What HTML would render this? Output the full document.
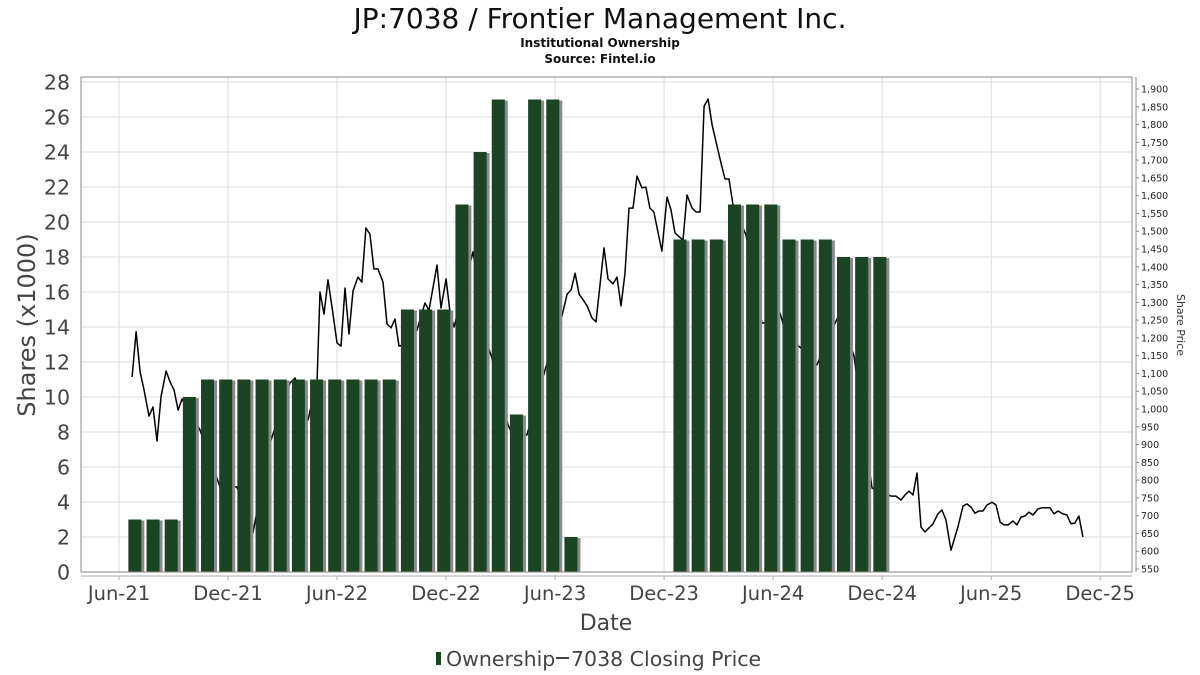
<!DOCTYPE html>
<html><head><meta charset="utf-8"><style>
html,body{margin:0;padding:0;background:#fff;}
svg{display:block;font-family:"DejaVu Sans","Liberation Sans",sans-serif;}
</style></head><body>
<svg id="chart" width="1200" height="675" viewBox="0 0 1200 675">
<text x="600" y="28" text-anchor="middle" font-size="28" fill="#111">JP:7038 / Frontier Management Inc.</text>
<text x="600" y="47" text-anchor="middle" font-size="12" font-weight="bold" fill="#111">Institutional Ownership</text>
<text x="600" y="63" text-anchor="middle" font-size="12" font-weight="bold" fill="#111">Source: Fintel.io</text>
<g id="grid"></g>
<g id="bars"></g>
<g id="line"></g>
<rect x="81" y="77" width="1051" height="495" fill="none" stroke="#888" stroke-width="1"/>
<g id="axes"></g>
<text transform="translate(35,325) rotate(-90)" text-anchor="middle" font-size="24" fill="#444">Shares (x1000)</text>
<text transform="translate(1177,325) rotate(90)" text-anchor="middle" font-size="11" fill="#333">Share Price</text>
<text x="606" y="630" text-anchor="middle" font-size="22" fill="#444">Date</text>
<g>
<rect x="436" y="652" width="5" height="13" fill="#1b4424"/>
<text x="446" y="666" font-size="20.5" fill="#444">Ownership</text>
<line x1="556" y1="658" x2="569" y2="658" stroke="#444" stroke-width="2"/>
<text x="571" y="666" font-size="20.5" fill="#444">7038 Closing Price</text>
</g>
</svg>
<script>
const barMonths=[0.9,1.9,2.9,3.9,4.9,5.9,6.9,7.9,8.9,9.9,10.9,11.9,12.9,13.9,14.9,15.9,16.9,17.9,18.9,19.9,20.9,21.9,22.9,23.9,24.9,30.9,31.9,32.9,33.9,34.9,35.9,36.9,37.9,38.9,39.9,40.9,41.9];
const barValues=[3,3,3,10,11,11,11,11,11,11,11,11,11,11,11,15,15,15,21,24,27,9,27,27,2,19,19,19,21,21,21,19,19,19,18,18,18];
const priceMonths=[0.72,0.94,1.16,1.38,1.65,1.87,2.09,2.31,2.59,2.81,3.03,3.25,3.47,4.46,5.56,6.49,7.37,8.31,9.41,9.69,10.4,10.9,11.06,11.28,11.5,11.72,12.0,12.22,12.44,12.66,12.88,13.15,13.37,13.59,13.81,14.03,14.25,14.53,14.75,14.97,15.19,15.41,15.63,16.4,16.84,17.06,17.5,17.72,18.0,18.22,18.44,19.48,20.25,20.53,21.41,21.68,22.45,23.45,24.38,24.66,24.88,25.1,25.32,25.54,25.76,26.03,26.25,26.69,26.91,27.19,27.41,27.63,27.85,28.07,28.29,28.51,28.78,29.0,29.22,29.44,29.66,29.88,30.16,30.38,30.6,31.04,31.26,31.54,31.76,31.98,32.2,32.42,32.64,32.91,33.13,33.35,33.57,33.79,34.51,35.39,35.66,36.38,36.76,37.48,38.41,39.41,39.68,40.45,41.44,42.49,42.76,43.04,43.26,43.48,43.7,43.92,44.14,44.36,44.8,45.07,45.29,45.51,45.79,46.17,46.45,46.67,46.89,47.11,47.33,47.55,47.77,48.05,48.27,48.49,48.71,48.93,49.2,49.42,49.64,49.86,50.08,50.3,50.58,50.8,51.24,51.46,51.68,51.95,52.17,52.39,52.61,52.83,53.05];
const priceValues=[1090,1217,1104,1053,980,1006,910,1034,1107,1076,1053,997,1028,941,781,781,651,904,1073,1087,969,1082,1329,1267,1363,1287,1186,1177,1340,1211,1332,1371,1357,1509,1492,1394,1394,1357,1239,1228,1253,1177,1180,1222,1298,1278,1405,1284,1366,1270,1231,1442,1186,1143,955,927,927,1110,1262,1323,1335,1382,1323,1307,1290,1256,1245,1453,1366,1352,1371,1290,1382,1565,1565,1655,1622,1624,1565,1554,1498,1444,1596,1560,1495,1475,1602,1565,1554,1554,1852,1872,1799,1740,1692,1647,1647,1574,1489,1242,1242,1270,1203,1174,1124,1242,1270,1149,778,755,755,744,758,769,758,820,668,654,677,705,716,688,603,668,727,733,724,707,713,713,730,738,730,682,674,674,685,674,696,699,710,702,719,722,722,705,713,705,702,677,679,699,640];
const xTickLabels=["Jun-21","Dec-21","Jun-22","Dec-22","Jun-23","Dec-23","Jun-24","Dec-24","Jun-25","Dec-25"];
const xTickMonths=[0,6,12,18,24,30,36,42,48,54];
const yTicks=[0,2,4,6,8,10,12,14,16,18,20,22,24,26,28];
const priceTicks=[550,600,650,700,750,800,850,900,950,1000,1050,1100,1150,1200,1250,1300,1350,1400,1450,1500,1550,1600,1650,1700,1750,1800,1850,1900];

const NS="http://www.w3.org/2000/svg";
const X=m=>119+m*18.17;
const Y=v=>572-v*17.5;
const P=p=>569-(p-550)*(480/1350);
function mk(tag,attrs,parent){const e=document.createElementNS(NS,tag);for(const k in attrs)e.setAttribute(k,attrs[k]);parent.appendChild(e);return e;}
const grid=document.getElementById('grid'),axes=document.getElementById('axes'),bars=document.getElementById('bars'),line=document.getElementById('line');
yTicks.forEach(v=>{
  const g=mk('line',{x1:81,x2:1132,y1:Y(v),y2:Y(v),stroke:'#ddd','stroke-width':1},grid);
  
  
  const t=mk('text',{x:70,y:Y(v)+7.5,'text-anchor':'end','font-size':20.5,fill:'#444'},axes);
  t.textContent=v;
  
  
});
xTickMonths.forEach((m,i)=>{
  const g=mk('line',{x1:X(m),x2:X(m),y1:77,y2:572,stroke:'#ddd','stroke-width':1},grid);
  
  
  const tk=mk('line',{x1:X(m),x2:X(m),y1:576,y2:580,stroke:'#aaa'},axes);
  
  
  const t=mk('text',{x:X(m),y:600,'text-anchor':'middle','font-size':19.5,fill:'#444'},axes);
  t.textContent=xTickLabels[i];
  
  
});
const xa=mk('line',{x1:81,x2:1132,y1:576,y2:576,stroke:'#aaa'},axes);


const ra=mk('line',{x1:1136,x2:1136,y1:77,y2:572,stroke:'#888'},axes);


priceTicks.forEach(p=>{
  const tk=mk('line',{x1:1136,x2:1139,y1:P(p),y2:P(p),stroke:'#888'},axes);
  
  
  const t=mk('text',{x:1141,y:P(p)+3.5,'font-size':9.5,fill:'#222'},axes);
  t.textContent=p>=1000?Math.floor(p/1000)+','+String(p%1000).padStart(3,'0'):p;
  
  
});
barMonths.forEach((m,i)=>{
  const cx=X(m),top=Y(barValues[i]);
  const s=mk('rect',{x:cx-4,y:top+1,width:13,height:572-top-1,fill:'#8a8a8a'},bars);
  
  
  const b=mk('rect',{x:cx-7,y:top,width:13,height:572-top,fill:'#1b4424'},bars);
  
  
});
const pts=priceMonths.map((m,i)=>X(m).toFixed(1)+','+P(priceValues[i]).toFixed(1)).join(' ');
const pl=mk('polyline',{points:pts,fill:'none',stroke:'#000','stroke-width':1.5,'stroke-linejoin':'round'},line);


document.getElementById('chart').insertBefore(line,bars);
</script>
</body></html>
